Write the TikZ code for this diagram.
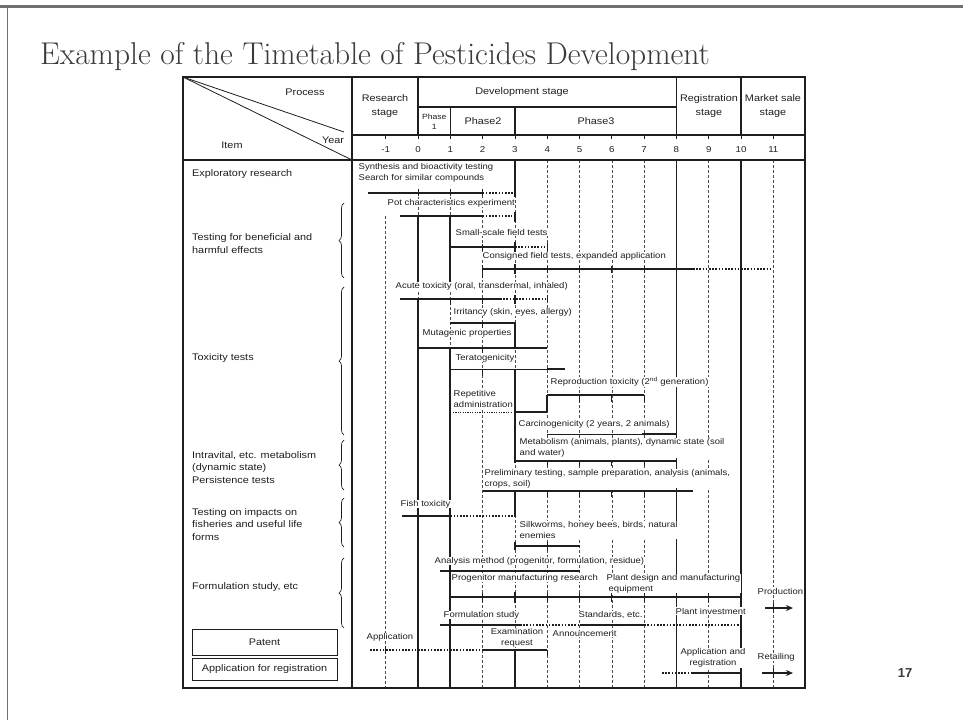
\documentclass[tikz,border=0pt]{standalone}
\usepackage{fontspec}
\usetikzlibrary{decorations.pathreplacing,arrows.meta}
\newfontfamily\tf[FakeStretch=1.13]{Liberation Sans}
\newfontfamily\pgnumfont{Liberation Sans}
\definecolor{ink}{HTML}{1E1E1E}
\definecolor{framec}{HTML}{707070}
\definecolor{titlec}{HTML}{3A3A3A}
\tikzset{
  bar/.style={line width=1.8pt, draw=ink},
  dotbar/.style={line width=1.8pt, draw=ink, dash pattern=on 1.6pt off 1.6pt},
  dotthin/.style={line width=0.9pt, draw=ink, dash pattern=on 1.2pt off 1.2pt},
  gridline/.style={line width=0.55pt, draw=ink!80, dash pattern=on 2.5pt off 2.5pt},
  vbar/.style={line width=1.7pt, draw=ink},
  tk/.style={line width=0.8pt, draw=ink},
  lbl/.style={font=\tf\fontsize{8.4}{10.8}\selectfont, text=ink, fill=white, inner sep=0.5pt, anchor=west, align=left},
  clbl/.style={font=\tf\fontsize{8.4}{10.8}\selectfont, text=ink, fill=white, inner sep=0.5pt, align=center},
  itemtxt/.style={font=\tf\fontsize{9.6}{12.4}\selectfont, text=ink, anchor=west, align=left, inner sep=0},
  hd/.style={font=\tf\fontsize{9.6}{13.5}\selectfont, text=ink, align=center, inner sep=0},
  yrlbl/.style={font=\tf\fontsize{8.6}{10}\selectfont, text=ink, inner sep=0, anchor=base},
  brc/.style={decorate, decoration={brace, amplitude=5pt, mirror}, line width=0.7pt, draw=ink},
  boxed/.style={draw=ink, line width=0.9pt, minimum width=145pt, font=\tf\fontsize{9.6}{12}\selectfont, text=ink},
}
\begin{document}
\begin{tikzpicture}[x=1pt, y=-1pt, declare function={X(\k)=418+32.3*\k;}]
\useasboundingbox (0,0) rectangle (963,720);

% slide frame
\draw[framec, line width=3pt] (0,6) -- (963,6);
\draw[framec, line width=1pt] (7,6) -- (7,720);

% title
\node[anchor=base west, inner sep=0, font=\fontsize{31.5}{34}\selectfont\addfontfeatures{FakeBold=0.25}, text=titlec] (title) at (40,64) {Example of the Timetable of Pesticides Development};

% page number
\node[font=\pgnumfont\bfseries\fontsize{13}{14}\selectfont, text=titlec, inner sep=0] (pagenum) at (905,673) {17};

% ---------- body grid (drawn first so labels can mask it)
\foreach \k/\s in {-1/216, 0/197, 1/197, 2/190, 3/160, 4/160, 5/160, 6/160, 7/160, 9/160, 11/160}
  \draw[gridline] ({X(\k)},\s) -- ({X(\k)},688);
\draw[vbar] ({X(8)},160) -- ({X(8)},688);
\draw[vbar] ({X(10)},160) -- ({X(10)},688);

% long vertical connectors
\draw[vbar] ({X(3)},160) -- ({X(3)},197);
\draw[vbar] ({X(0)},216) -- ({X(0)},283);
\draw[vbar] ({X(1)},216) -- ({X(1)},283);
\draw[vbar] ({X(0)},299) -- ({X(0)},688);
\draw[vbar] ({X(3)},323) -- ({X(3)},348);
\draw[vbar] ({X(1)},348) -- ({X(1)},688);
\draw[vbar] ({X(3)},369) -- ({X(3)},463);
\draw[vbar] ({X(4)},395) -- ({X(4)},412);
\draw[vbar] ({X(3)},491) -- ({X(3)},517);
\draw[vbar] ({X(3)},650) -- ({X(3)},688);

% ---------- table frame and header
\draw[line width=1.3pt, draw=ink] (183,77) rectangle (805,688);
\draw[line width=1.6pt, draw=ink] (352,77) -- (352,688);
\draw[line width=1.4pt, draw=ink] ({X(0)},107) -- ({X(8)},107);
\draw[line width=1.6pt, draw=ink] (352,135) -- (805,135);
\draw[line width=2.2pt, draw=ink] (183,160) -- (805,160);
\draw[line width=1.6pt, draw=ink] ({X(0)},77) -- ({X(0)},135);
\draw[line width=1.6pt, draw=ink] ({X(1)},107) -- ({X(1)},135);
\draw[line width=1.6pt, draw=ink] ({X(3)},107) -- ({X(3)},135);
\draw[line width=1.6pt, draw=ink] ({X(8)},77) -- ({X(8)},135);
\draw[line width=1.6pt, draw=ink] ({X(10)},77) -- ({X(10)},135);
\draw[line width=0.8pt, draw=ink] (183,77) -- (344,132);
\draw[line width=0.8pt, draw=ink] (183,77) -- (352,160);

\node[hd] (hprocess) at (305,92) {Process};
\node[hd] (hitem) at (232,145) {Item};
\node[hd] (hyear) at (333,140) {Year};
\node[hd] (hresearch) at (385,106) {Research\\stage};
\node[hd] (hdev) at (522,92) {Development stage};
\node[hd, font=\tf\fontsize{7.6}{10}\selectfont] (hph1) at (434.2,122) {Phase\\1};
\node[hd] (hph2) at (483,121) {Phase2};
\node[hd] (hph3) at (596,121) {Phase3};
\node[hd] (hreg) at (709,106) {Registration\\stage};
\node[hd] (hmarket) at (773,106) {Market sale\\stage};

\foreach \k [count=\i] in {-1,...,11} {
  \node[yrlbl] (yr\i) at ({X(\k)},152) {\k};
  \draw[tk] ({X(\k)},135) -- ({X(\k)},138.5);
}

% ---------- item column
\node[itemtxt] (i1) at (192,174) {Exploratory research};
\node[itemtxt] (i2) at (192,243.5) {Testing for beneficial and\\harmful effects};
\node[itemtxt] (i3) at (192,358) {Toxicity tests};
\node[itemtxt] (i4) at (192,467.5) {Intravital, etc. metabolism\\(dynamic state)\\Persistence tests};
\node[itemtxt] (i5) at (192,524.5) {Testing on impacts on\\fisheries and useful life\\forms};
\node[itemtxt] (i6) at (192,587) {Formulation study, etc};
\draw[brc] (344,203) -- (344,278);
\draw[brc] (344,287) -- (344,435);
\draw[brc] (344,440) -- (344,490);
\draw[brc] (344,498) -- (344,547);
\draw[brc] (344,558) -- (344,628);
\node[boxed, minimum height=26pt] (patent) at (264.5,642) {Patent};
\node[boxed, minimum height=22pt] (appreg) at (264.5,669) {Application for registration};

% ---------- chart labels
\node[lbl] (l1) at (358,172.5) {Synthesis and bioactivity testing\\Search for similar compounds};
\node[lbl] (l2) at (387,203) {Pot characteristics experiment};
\node[lbl] (l3) at (455,232) {Small-scale field tests};
\node[lbl] (l4) at (482,256) {Consigned field tests, expanded application};
\node[lbl] (l5) at (395,286) {Acute toxicity (oral, transdermal, inhaled)};
\node[lbl] (l6) at (453,312) {Irritancy (skin, eyes, allergy)};
\node[lbl] (l7) at (422,333) {Mutagenic properties};
\node[lbl] (l8) at (455,358) {Teratogenicity};
\node[lbl] (l9) at (550,382) {Reproduction toxicity (2\textsuperscript{nd} generation)};
\node[lbl] (l10) at (453,399) {Repetitive\\administration};
\node[lbl] (l11) at (518,424) {Carcinogenicity (2 years, 2 animals)};
\node[lbl] (l12) at (519,448) {Metabolism (animals, plants), dynamic state (soil\\and water)};
\node[lbl] (l13) at (484,478.5) {Preliminary testing, sample preparation, analysis (animals,\\crops, soil)};
\node[lbl] (l14) at (400,504) {Fish toxicity};
\node[lbl] (l15) at (519,530) {Silkworms, honey bees, birds, natural\\enemies};
\node[lbl] (l16) at (434,561) {Analysis method (progenitor, formulation, residue)};
\node[lbl] (l17) at (451,578) {Progenitor manufacturing research};
\node[lbl] (l18) at (606,583.5) {Plant design and manufacturing\\\hspace*{2pt}equipment};
\node[lbl] (l19) at (757,591) {Production};
\node[lbl] (l20) at (443,615) {Formulation study};
\node[lbl] (l21) at (578,615) {Standards, etc.};
\node[lbl] (l22) at (675,611) {Plant investment};
\node[lbl] (l23) at (366,637) {Application};
\node[clbl] (l24) at (517,637.5) {Examination\\request};
\node[lbl] (l25) at (552,634) {Announcement};
\node[clbl] (l26) at (713,658) {Application and\\registration};
\node[lbl] (l27) at (757,657) {Retailing};

% ---------- schedule bars
% exploratory research
\draw[bar] (368,193) -- ({X(2)},193);
\draw[dotbar] ({X(2)},193) -- ({X(3)},193);
\foreach \k in {0,1,2} \draw[tk] ({X(\k)},189) -- ({X(\k)},196);
% pot characteristics
\draw[bar] (400,216) -- ({X(2)},216);
\draw[dotbar] ({X(2)},216) -- (512,216);
\draw[vbar] ({X(3)},212) -- ({X(3)},222);
% small-scale field tests
\draw[bar] ({X(1)},247) -- ({X(3)},247);
\draw[dotbar] ({X(3)},247) -- (545,247);
\draw[vbar] ({X(3)},242) -- ({X(3)},252);
\draw[tk] ({X(2)},244) -- ({X(2)},251);
\draw[tk] ({X(4)},243) -- ({X(4)},251);
% consigned field tests
\draw[bar] ({X(2)},269) -- (693,269);
\draw[dotbar] (693,269) -- (772,269);
\draw[vbar] ({X(3)},264) -- ({X(3)},274);
\draw[tk] ({X(2)},265) -- ({X(2)},278);
\foreach \k in {4,5,6,7} \draw[tk] ({X(\k)},266) -- ({X(\k)},273);
% acute toxicity
\draw[bar] (400,299) -- (500,299);
\draw[dotbar] (500,299) -- (547,299);
\draw[vbar] ({X(3)},295) -- ({X(3)},304);
\draw[tk] ({X(1)},299) -- ({X(1)},305);
\draw[tk] ({X(2)},299) -- ({X(2)},304);
\draw[tk] ({X(4)},295) -- ({X(4)},302);
% irritancy
\draw[bar] ({X(1)},323) -- (516,323);
\draw[tk] ({X(2)},323) -- ({X(2)},328);
% mutagenic properties
\draw[bar] ({X(0)},348) -- ({X(4)},348);
\draw[tk] ({X(2)},348) -- ({X(2)},353);
% teratogenicity
\draw[line width=0.9pt, draw=ink] ({X(1)},369) -- ({X(4)},369);
\draw[bar] ({X(4)},369) -- (565,369);
\draw[tk] ({X(2)},369) -- ({X(2)},376);
% reproduction toxicity
\draw[bar] ({X(4)},395) -- ({X(7)},395);
\foreach \k in {5,6,7} \draw[tk] ({X(\k)},395) -- ({X(\k)},402);
% repetitive administration
\draw[dotthin] (453,412) -- (513,412);
\draw[bar] ({X(3)},412) -- ({X(4)},412);
% carcinogenicity
\draw[line width=0.9pt, draw=ink] ({X(4)},434) -- (642,434);
\draw[bar] (642,434) -- ({X(8)},434);
% metabolism
\draw[bar] ({X(3)},461) -- ({X(8)},461);
\foreach \k in {4,5,6,7} \draw[tk] ({X(\k)},461) -- ({X(\k)},466);
% preliminary testing
\draw[bar] ({X(2)},491) -- (693,491);
\foreach \k in {4,5,6,7} \draw[tk] ({X(\k)},491) -- ({X(\k)},497);
% fish toxicity
\draw[bar] (402,516) -- ({X(1)},516);
\draw[dotbar] ({X(1)},516) -- (513,516);
% silkworms etc.
\draw[bar] ({X(3)},546) -- ({X(5)},546);
\draw[vbar] ({X(3)},542) -- ({X(3)},550);
\draw[tk] ({X(4)},542) -- ({X(4)},550);
% analysis method
\draw[bar] (440,571) -- ({X(5)},571);
% progenitor manufacturing / plant design
\draw[bar] ({X(1)},597) -- ({X(10)},597);
\foreach \k in {2,4,5,6,7,9} \draw[tk] ({X(\k)},593) -- ({X(\k)},602);
\draw[vbar] ({X(3)},592) -- ({X(3)},603);
% formulation study / standards / plant investment
\draw[line width=1.2pt, draw=ink] (440,625) -- (520,625);
\draw[dotbar] (520,625) -- ({X(5)},625);
\draw[bar] ({X(5)},625) -- ({X(7)},625);
\draw[dotbar] ({X(7)},625) -- ({X(10)},625);
% production
\coordinate (prodS) at (765,608);
\coordinate (prodE) at (793,608);
\draw[bar, -{Stealth[length=7pt,width=6pt]}] (prodS) -- (prodE);
\draw[tk] ({X(11)},603) -- ({X(11)},613);
% patent application / examination request
\draw[dotbar] (370,650) -- ({X(2)},650);
\draw[bar] ({X(2)},650) -- ({X(4)},650);
\draw[tk] ({X(4)},650) -- ({X(4)},656);
\draw[tk] ({X(-1)},646) -- ({X(-1)},654);
% application and registration
\draw[dotbar] (662,673) -- (692,673);
\draw[bar] (692,673) -- ({X(10)},673);
% retailing
\coordinate (retS) at (762,673);
\coordinate (retE) at (793,673);
\draw[bar, -{Stealth[length=7pt,width=6pt]}] (retS) -- (retE);
\draw[tk] ({X(11)},668) -- ({X(11)},678);
\end{tikzpicture}
\end{document}
